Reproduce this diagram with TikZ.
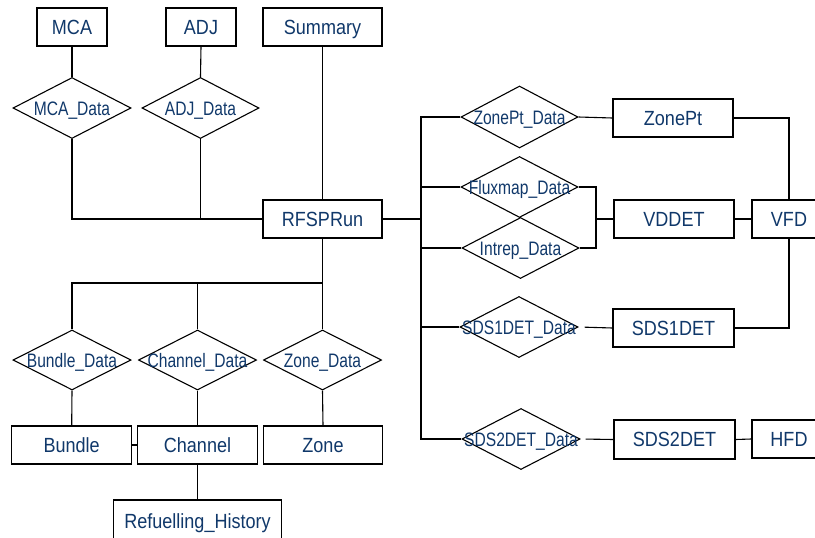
\documentclass[tikz,border=0pt]{standalone}
\usepackage{fontspec}
\setmainfont{Liberation Sans}[FakeStretch=0.88]
\newfontfamily\relfont{Liberation Sans}[FakeStretch=0.8]
\usetikzlibrary{shapes.geometric}
\definecolor{txtblue}{RGB}{16,56,106}
\tikzset{
  ent/.style={draw=black, line width=1.1pt, rectangle, inner sep=0pt, fill=white,
    text=txtblue, font=\fontsize{20.5}{22}\selectfont, text height=14.5pt, text depth=0pt,
    minimum width=120pt, minimum height=38pt},
  rel/.style={draw=black, line width=1.1pt, diamond, inner sep=0pt,
    text=txtblue, font=\relfont\fontsize{19.5}{21}\selectfont, text height=14pt, text depth=0pt,
    minimum width=118pt, minimum height=61pt},
  conn/.style={draw=black, line width=1.1pt}
}
\newcommand{\zt}[1]{\makebox[0pt][c]{#1}}
\begin{document}
\begin{tikzpicture}[x=1pt,y=-1pt]
\useasboundingbox (0,0) rectangle (815,538);
\clip (0,0) rectangle (815,538);
% left top
\node[ent, minimum width=70pt] (MCA) at (72,27) {MCA};
\node[ent, minimum width=70pt] (ADJ) at (201,27) {ADJ};
\node[ent, minimum width=119pt] (Summary) at (322.5,27) {Summary};
\node[rel] (MCAData) at (72,108) {\zt{MCA\_Data}};
\node[rel, minimum width=117pt] (ADJData) at (200.5,108) {\zt{ADJ\_Data}};
\node[ent, minimum width=119pt] (RFSPRun) at (322.5,219) {RFSPRun};
% right
\node[rel, minimum width=117pt, minimum height=62pt] (ZonePtData) at (519.5,117) {\zt{ZonePt\_Data}};
\node[ent] (ZonePt) at (673,118) {ZonePt};
\node[rel, minimum width=117pt] (FluxData) at (519.5,187) {\zt{Fluxmap\_Data}};
\node[rel, minimum width=117pt] (IntrepData) at (520.5,248) {\zt{Intrep\_Data}};
\node[ent] (VDDET) at (674,219) {VDDET};
\node[ent, minimum width=74pt] (VFD) at (789,219) {VFD};
\node[rel] (SDS1Data) at (519,327) {\zt{SDS1DET\_Data}};
\node[ent, minimum width=121pt] (SDS1DET) at (673.5,328) {SDS1DET};
\node[rel] (SDS2Data) at (521,439) {\zt{SDS2DET\_Data}};
\node[ent, minimum width=121pt, minimum height=39pt] (SDS2DET) at (674.5,439.5) {SDS2DET};
\node[ent, minimum width=74pt] (HFD) at (789,439) {HFD};
% bottom left
\node[rel, minimum height=60pt] (BundleData) at (72,360) {\zt{Bundle\_Data}};
\node[rel, minimum height=60pt] (ChannelData) at (197.5,360) {\zt{Channel\_Data}};
\node[rel, minimum height=60pt] (ZoneData) at (322.5,360) {\zt{Zone\_Data}};
\node[ent] (Bundle) at (71.7,445) {Bundle};
\node[ent] (Channel) at (197.5,445) {Channel};
\node[ent, minimum width=119pt] (Zone) at (323,445) {Zone};
\node[ent, minimum width=168pt, minimum height=42pt] (Refuel) at (197.5,521) {Refuelling\_History};
% coordinates
\coordinate (bus) at (322.5,283);
\coordinate (trunk) at (421,219);
\coordinate (fx) at (596,219);
% connectors top left
\draw[conn] (MCA.south) -- (MCAData.north);
\draw[conn] (ADJ.south) -- (ADJData.north);
\draw[conn] (MCAData.south) |- (RFSPRun.west);
\draw[conn] (ADJData.south) |- (RFSPRun.west);
\draw[conn] (Summary.south) -- (RFSPRun.north);
% bottom left
\draw[conn] (RFSPRun.south) -- (bus);
\draw[conn] (bus) -| (BundleData.north);
\draw[conn] (bus) -| (ChannelData.north);
\draw[conn] (bus) -- (ZoneData.north);
\draw[conn] (BundleData.south) -- (Bundle.north);
\draw[conn] (ChannelData.south) -- (Channel.north);
\draw[conn] (ZoneData.south) -- (Zone.north);
\draw[conn] (Bundle.east) -- (Channel.west);
\draw[conn] (Channel.south) -- (Refuel.north);
% right trunk
\draw[conn] (RFSPRun.east) -- (trunk);
\draw[conn] (ZonePtData.west) -| (trunk) |- (SDS2Data.west);
\draw[conn] (trunk |- FluxData.west) -- (FluxData.west);
\draw[conn] (trunk |- IntrepData.west) -- (IntrepData.west);
\draw[conn] (trunk |- SDS1Data.west) -- (SDS1Data.west);
% right relations
\draw[conn] (ZonePtData.east) -- (ZonePt.west);
\draw[conn] (FluxData.east) -| (fx) |- (IntrepData.east);
\draw[conn] (fx) -- (VDDET.west);
\draw[conn, shorten <=6pt] (SDS1Data.east) -- (SDS1DET.west);
\draw[conn, shorten <=5pt] (SDS2Data.east) -- (SDS2DET.west);
\draw[conn] (ZonePt.east) -| (VFD.north);
\draw[conn] (VDDET.east) -- (VFD.west);
\draw[conn] (SDS1DET.east) -| (VFD.south);
\draw[conn] (SDS2DET.east) -- (HFD.west);
\end{tikzpicture}
\end{document}
